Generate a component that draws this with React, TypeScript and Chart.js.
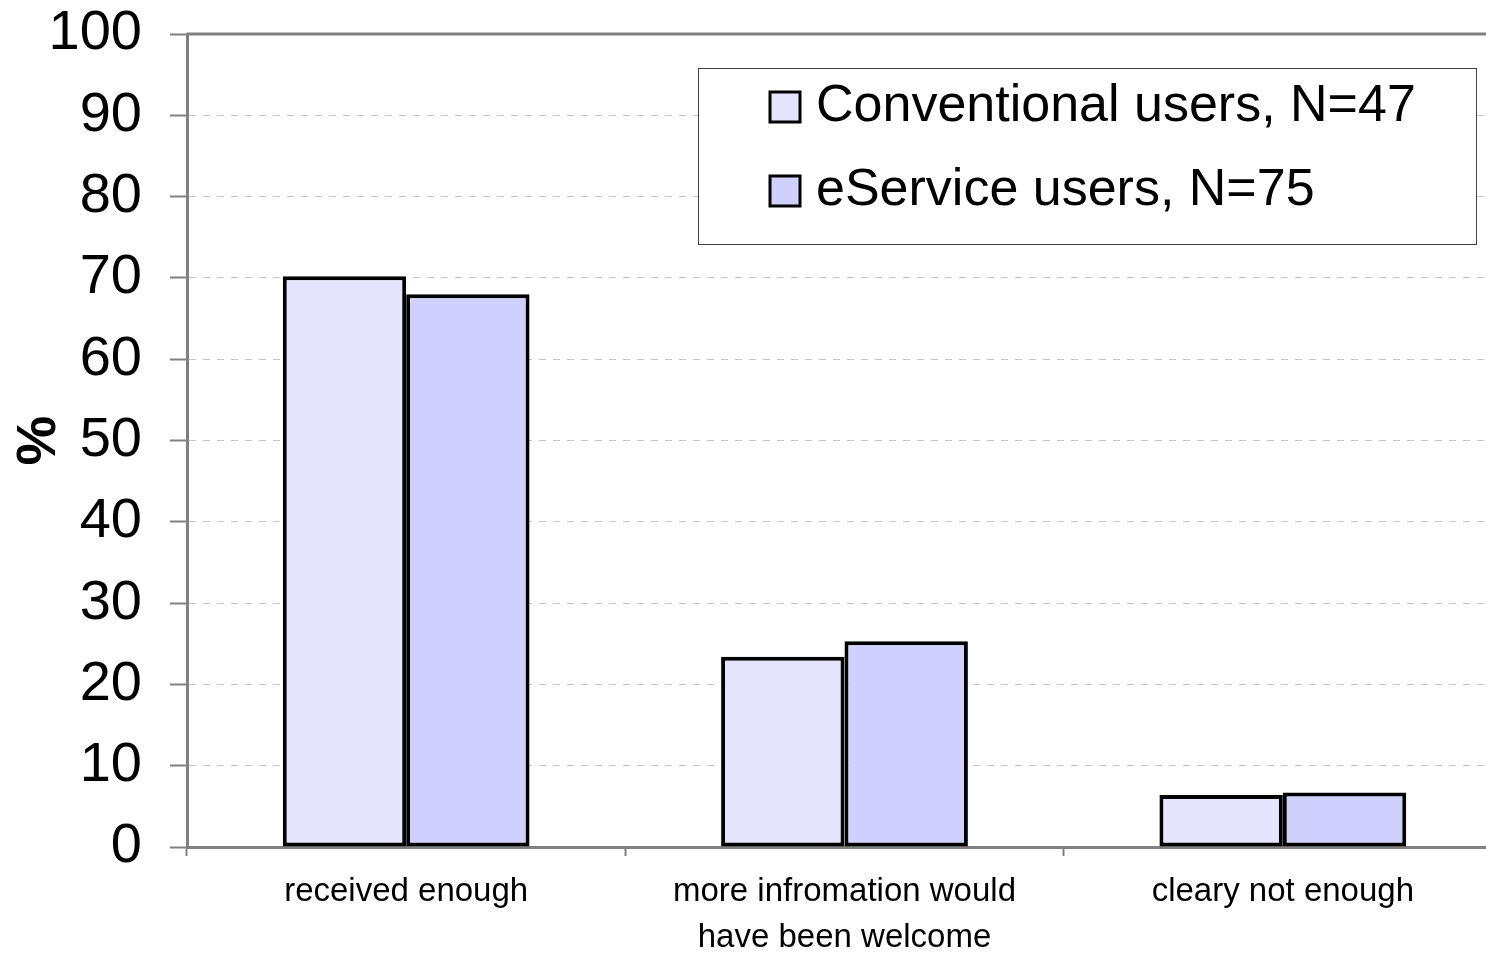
import React, { useEffect, useRef } from "react";
import { Chart, registerables } from "chart.js";

Chart.register(...registerables);

// Answer categories (multi-line labels as arrays)
const categories: string[][] = [
  ["received enough"],
  ["more infromation would", "have been welcome"],
  ["cleary not enough"],
];

// Share of respondents per answer, in percent
const conventionalValues = [70.2, 23.4, 6.4];
const eServiceValues = [68.0, 25.3, 6.7];

const seriesLabels = ["Conventional users, N=47", "eService users, N=75"];
const seriesColors = ["#e4e4fc", "#d0d0fc"];

const yMin = 0;
const yMax = 100;
const yStep = 10;

const FONT = "'Liberation Sans', Arial, Helvetica, sans-serif";
const AXIS_GRAY = "#808080";

// Frame line along the top of the plot area
const topFrame = {
  id: "topFrame",
  beforeDatasetsDraw(chart: any) {
    const { ctx, chartArea } = chart;
    ctx.save();
    ctx.strokeStyle = AXIS_GRAY;
    ctx.lineWidth = 3;
    ctx.beginPath();
    ctx.moveTo(chartArea.left, chartArea.top);
    ctx.lineTo(chartArea.right, chartArea.top);
    ctx.stroke();
    ctx.restore();
  },
};

// Boxed legend inside the upper right of the plot
const boxedLegend = {
  id: "boxedLegend",
  afterDraw(chart: any) {
    const { ctx, chartArea } = chart;
    const left = chartArea.left + 511;
    const top = chartArea.top + 34;
    const width = 778;
    const height = 176;
    ctx.save();
    ctx.fillStyle = "#ffffff";
    ctx.fillRect(left, top, width, height);
    ctx.strokeStyle = "#404040";
    ctx.lineWidth = 1;
    ctx.strokeRect(left + 0.5, top + 0.5, width, height);

    const rowY = [top + 39, top + 123];
    chart.data.datasets.forEach((ds: any, i: number) => {
      const cy = rowY[i];
      const sx = left + 72;
      const size = 30;
      ctx.fillStyle = ds.backgroundColor;
      ctx.fillRect(sx, cy - size / 2, size, size);
      ctx.strokeStyle = "#000000";
      ctx.lineWidth = 3;
      ctx.strokeRect(sx, cy - size / 2, size, size);
      ctx.fillStyle = "#000000";
      ctx.font = `52px ${FONT}`;
      ctx.textAlign = "left";
      ctx.textBaseline = "middle";
      ctx.fillText(ds.label, left + 118, cy);
    });
    ctx.restore();
  },
};

export default function App() {
  const canvasRef = useRef<HTMLCanvasElement | null>(null);

  useEffect(() => {
    if (!canvasRef.current) return;
    const chart = new Chart(canvasRef.current, {
      type: "bar",
      data: {
        labels: categories,
        datasets: [
          {
            label: seriesLabels[0],
            data: conventionalValues,
            backgroundColor: seriesColors[0],
            borderColor: "#000000",
            borderWidth: 4,
            borderSkipped: false,
          },
          {
            label: seriesLabels[1],
            data: eServiceValues,
            backgroundColor: seriesColors[1],
            borderColor: "#000000",
            borderWidth: 4,
            borderSkipped: false,
          },
        ],
      },
      options: {
        responsive: false,
        animation: false,
        devicePixelRatio: 1,
        layout: { padding: { left: 0, top: 34, right: 18, bottom: 0 } },
        datasets: {
          bar: { categoryPercentage: 0.563, barPercentage: 1.0 },
        },
        plugins: {
          legend: { display: false },
          tooltip: { enabled: false },
        },
        scales: {
          x: {
            afterFit: (scale: any) => {
              scale.height = 107;
              scale.paddingLeft = 0;
              scale.paddingRight = 0;
            },
            grid: {
              display: true,
              drawOnChartArea: false,
              drawTicks: true,
              tickLength: 9,
              tickColor: AXIS_GRAY,
              tickWidth: 2,
            },
            border: { display: true, color: AXIS_GRAY, width: 3 },
            ticks: {
              color: "#000000",
              padding: 13,
              maxRotation: 0,
              autoSkip: false,
              font: { family: FONT, size: 33, lineHeight: 1.4 },
            },
          },
          y: {
            min: yMin,
            max: yMax,
            afterFit: (scale: any) => {
              scale.width = 187;
              scale.paddingTop = 0;
              scale.paddingBottom = 0;
            },
            title: {
              display: true,
              text: "%",
              color: "#000000",
              font: { family: FONT, size: 56, weight: "bold" },
              padding: { top: 6, bottom: 0 },
            },
            grid: {
              color: "#c4c4c4",
              lineWidth: 1,
              drawTicks: true,
              tickLength: 17,
              tickColor: AXIS_GRAY,
              tickWidth: 2,
              tickBorderDash: [],
            },
            border: { display: true, color: AXIS_GRAY, width: 3, dash: [7, 7] },
            ticks: {
              stepSize: yStep,
              color: "#000000",
              padding: 28,
              font: { family: FONT, size: 56 },
            },
          },
        },
      },
      plugins: [topFrame, boxedLegend],
    });
    return () => chart.destroy();
  }, []);

  return (
    <div
      style={{
        position: "fixed",
        left: 0,
        top: 0,
        width: 1486,
        height: 954,
        overflow: "hidden",
        background: "#ffffff",
      }}
    >
      <canvas ref={canvasRef} width={1520} height={954} style={{ display: "block" }} />
    </div>
  );
}
